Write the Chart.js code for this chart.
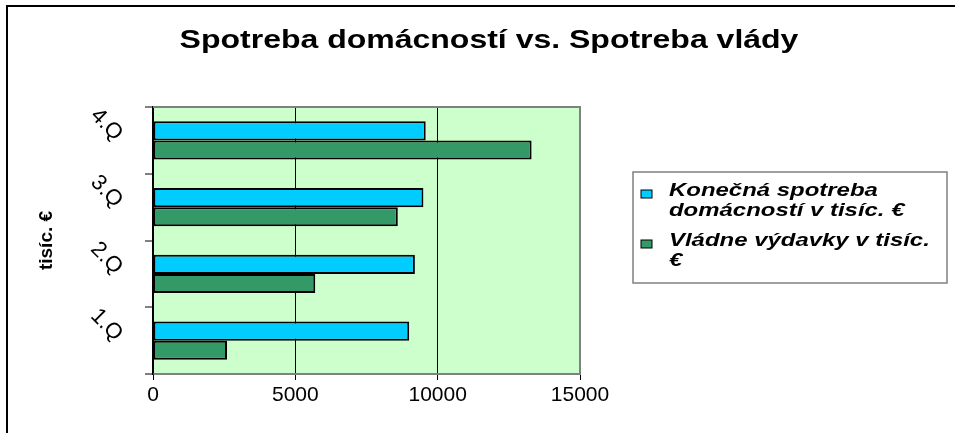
<!DOCTYPE html>
<html>
<head>
<meta charset="utf-8">
<script src="https://cdn.jsdelivr.net/npm/chart.js@4"></script>
<style>
  html, body { margin: 0; padding: 0; background: #fff; overflow: hidden; }
  #wrap { position: relative; width: 955px; height: 433px; }
</style>
</head>
<body>
<div id="wrap"><canvas id="chart"></canvas></div>
<script>
// ─── Data ────────────────────────────────────────────────────────────────────

const quarters   = ["1.Q", "2.Q", "3.Q", "4.Q"];
const households = [9000, 9200, 9500, 9580];
const government = [2600, 5700, 8600, 13300];
const xTicks     = [0, 5000, 10000, 15000];

const chartTitle = "Spotreba domácností vs. Spotreba vlády";
const axisTitle  = "tisíc. €";
const legendRows = [
  { color: "#00CCFF", lines: ["Konečná spotreba", "domácností v tisíc. €"] },
  { color: "#339966", lines: ["Vládne výdavky v tisíc.", "€"] }
];

const FONT = "'Liberation Sans', Arial, sans-serif";

// the source picture is a bit wide, so self-drawn text gets stretched along x
function wideText(ctx, text, x, y, sx) {
  ctx.save();
  ctx.translate(x, y);
  ctx.scale(sx, 1);
  ctx.fillText(text, 0, 0);
  ctx.restore();
}

// ─── Decorations (frame, plot fill, title, legend box) ───────────────────────

const decor = {
  id: "decor",
  beforeDraw(chart) {
    const { ctx, chartArea: a } = chart;
    ctx.save();
    ctx.fillStyle = "#CCFFCC";
    ctx.fillRect(a.left, a.top, a.right - a.left, a.bottom - a.top);
    // outer frame (only left and top edges are in view)
    ctx.fillStyle = "#000";
    ctx.fillRect(6, 5, 2, 440);
    ctx.fillRect(6, 5, 960, 2);
    ctx.restore();
  },
  afterDatasetsDraw(chart) {
    const { ctx, chartArea: a } = chart;
    ctx.save();
    ctx.strokeStyle = "#808080";
    ctx.lineWidth = 2;
    ctx.beginPath();
    ctx.moveTo(a.left, a.top);
    ctx.lineTo(a.right, a.top);
    ctx.lineTo(a.right, a.bottom);
    ctx.stroke();
    ctx.restore();
  },
  afterDraw(chart) {
    const { ctx } = chart;
    ctx.save();
    // title
    ctx.fillStyle = "#000";
    ctx.font = "bold 25px " + FONT;
    ctx.textAlign = "center";
    ctx.textBaseline = "alphabetic";
    wideText(ctx, chartTitle, 489, 48, 1.28);

    // legend box
    ctx.fillStyle = "#fff";
    ctx.fillRect(633, 172, 314, 111);
    ctx.strokeStyle = "#808080";
    ctx.lineWidth = 1.5;
    ctx.strokeRect(633, 172, 314, 111);

    ctx.font = "italic bold 18px " + FONT;
    ctx.textAlign = "left";
    const rowTop = [190, 240];
    legendRows.forEach((row, i) => {
      const y = rowTop[i];
      ctx.fillStyle = row.color;
      ctx.fillRect(641, y, 11, 8);
      ctx.strokeStyle = "#000";
      ctx.lineWidth = 1;
      ctx.strokeRect(641, y, 11, 8);
      ctx.fillStyle = "#000";
      row.lines.forEach((t, j) => wideText(ctx, t, 669, y + 6 + j * 20, 1.33));
    });
    ctx.restore();
  }
};

// ─── Chart ───────────────────────────────────────────────────────────────────

new Chart(document.getElementById("chart"), {
  type: "bar",
  data: {
    labels: quarters,
    datasets: [
      {
        label: legendRows[0].lines.join(" "),
        data: households,
        backgroundColor: "#00CCFF",
        borderColor: "#000",
        borderWidth: 2,
        borderSkipped: false,
        barPercentage: 1,
        categoryPercentage: 0.57
      },
      {
        label: legendRows[1].lines.join(" "),
        data: government,
        backgroundColor: "#339966",
        borderColor: "#000",
        borderWidth: 2,
        borderSkipped: false,
        barPercentage: 1,
        categoryPercentage: 0.57
      }
    ]
  },
  options: {
    indexAxis: "y",
    responsive: true,
    maintainAspectRatio: false,
    animation: false,
    layout: { padding: { left: 0, top: 107, right: 375, bottom: 0 } },
    plugins: {
      legend: { display: false },
      title: { display: false },
      tooltip: { enabled: false }
    },
    scales: {
      x: {
        min: 0,
        max: 15000,
        afterBuildTicks: s => { s.ticks = xTicks.map(v => ({ value: v })); },
        afterFit: s => { s.height = 59; },
        grid: {
          color: c => (c.tick && c.tick.value === 15000 ? "#808080" : "#000"),
          tickColor: "#000",
          lineWidth: 1,
          tickLength: 6
        },
        border: { color: "#808080", width: 2 },
        ticks: {
          color: "#000",
          padding: 3,
          maxRotation: 0,
          callback: v => String(v),
          font: { family: FONT, size: 21 }
        }
      },
      y: {
        reverse: true,
        afterFit: s => { s.width = 153; },
        grid: {
          drawOnChartArea: false,
          color: "#808080",
          tickColor: "#808080",
          tickLength: 8,
          lineWidth: 2,
          offset: true
        },
        border: { color: "#000", width: 1.5 },
        ticks: {
          color: "#000",
          padding: 26,
          labelOffset: -3,
          minRotation: -45,
          maxRotation: -45,
          font: { family: FONT, size: 22 }
        },
        title: {
          display: true,
          text: axisTitle,
          color: "#000",
          padding: { top: 35, bottom: 0 },
          font: { family: FONT, size: 19, weight: "bold" }
        }
      }
    }
  },
  plugins: [decor]
});
</script>
</body>
</html>
